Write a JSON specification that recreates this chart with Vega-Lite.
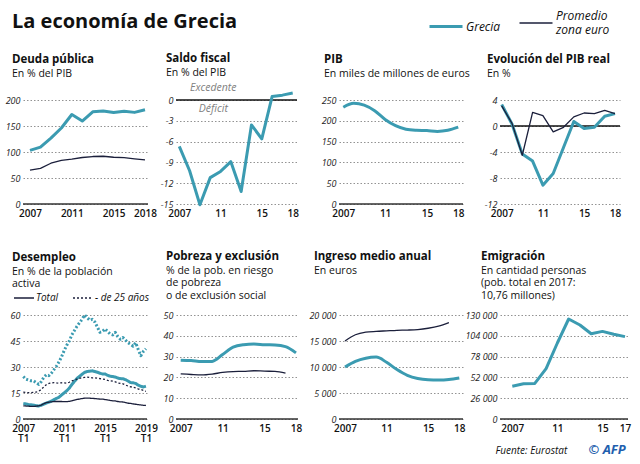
{
"$schema": "https://vega.github.io/schema/vega-lite/v6.json",
"background": "white",
"padding": {"left": 5, "top": 12, "right": 5, "bottom": 5},
"title": {"text": "La economía de Grecia", "fontSize": 20, "fontWeight": "bold", "anchor": "start", "frame": "group", "offset": -15, "color": "#111", "dx": -11},
"columns": 4,
"bounds": "flush",
"align": "each",
"spacing": {"row": 111, "column": 10},
"resolve": {"legend": {"strokeDash": "independent"}},
"datasets": {
"deuda": [
{"pais":"Grecia","anio":2007,"valor":103.1},{"pais":"Grecia","anio":2008,"valor":109.4},{"pais":"Grecia","anio":2009,"valor":126.7},{"pais":"Grecia","anio":2010,"valor":146.2},{"pais":"Grecia","anio":2011,"valor":172.1},{"pais":"Grecia","anio":2012,"valor":159.6},{"pais":"Grecia","anio":2013,"valor":177.4},{"pais":"Grecia","anio":2014,"valor":178.9},{"pais":"Grecia","anio":2015,"valor":175.9},{"pais":"Grecia","anio":2016,"valor":178.5},{"pais":"Grecia","anio":2017,"valor":176.2},{"pais":"Grecia","anio":2018,"valor":181.2},
{"pais":"Promedio zona euro","anio":2007,"valor":65.0},{"pais":"Promedio zona euro","anio":2008,"valor":68.6},{"pais":"Promedio zona euro","anio":2009,"valor":78.4},{"pais":"Promedio zona euro","anio":2010,"valor":83.8},{"pais":"Promedio zona euro","anio":2011,"valor":86.1},{"pais":"Promedio zona euro","anio":2012,"valor":89.4},{"pais":"Promedio zona euro","anio":2013,"valor":91.3},{"pais":"Promedio zona euro","anio":2014,"valor":91.8},{"pais":"Promedio zona euro","anio":2015,"valor":89.9},{"pais":"Promedio zona euro","anio":2016,"valor":89.0},{"pais":"Promedio zona euro","anio":2017,"valor":86.8},{"pais":"Promedio zona euro","anio":2018,"valor":84.8}
],
"saldo": [
{"pais":"Grecia","anio":2007,"valor":-6.7},{"pais":"Grecia","anio":2008,"valor":-10.2},{"pais":"Grecia","anio":2009,"valor":-15.1},{"pais":"Grecia","anio":2010,"valor":-11.2},{"pais":"Grecia","anio":2011,"valor":-10.3},{"pais":"Grecia","anio":2012,"valor":-8.9},{"pais":"Grecia","anio":2013,"valor":-13.2},{"pais":"Grecia","anio":2014,"valor":-3.6},{"pais":"Grecia","anio":2015,"valor":-5.6},{"pais":"Grecia","anio":2016,"valor":0.5},{"pais":"Grecia","anio":2017,"valor":0.7},{"pais":"Grecia","anio":2018,"valor":1.0}
],
"notas": [
{"anio":2010.3,"valor":1.7,"texto":"Excedente"},{"anio":2010.3,"valor":-1.35,"texto":"Déficit"}
],
"pib": [
{"pais":"Grecia","anio":2007,"valor":232.7},{"pais":"Grecia","anio":2008,"valor":242.0},{"pais":"Grecia","anio":2009,"valor":237.5},{"pais":"Grecia","anio":2010,"valor":224.1},{"pais":"Grecia","anio":2011,"valor":203.3},{"pais":"Grecia","anio":2012,"valor":188.4},{"pais":"Grecia","anio":2013,"valor":179.9},{"pais":"Grecia","anio":2014,"valor":177.2},{"pais":"Grecia","anio":2015,"valor":176.4},{"pais":"Grecia","anio":2016,"valor":174.5},{"pais":"Grecia","anio":2017,"valor":177.2},{"pais":"Grecia","anio":2018,"valor":184.7}
],
"real": [
{"pais":"Grecia","anio":2007,"valor":3.3},{"pais":"Grecia","anio":2008,"valor":0.3},{"pais":"Grecia","anio":2009,"valor":-4.3},{"pais":"Grecia","anio":2010,"valor":-5.4},{"pais":"Grecia","anio":2011,"valor":-9.1},{"pais":"Grecia","anio":2012,"valor":-7.3},{"pais":"Grecia","anio":2013,"valor":-3.3},{"pais":"Grecia","anio":2014,"valor":0.7},{"pais":"Grecia","anio":2015,"valor":-0.4},{"pais":"Grecia","anio":2016,"valor":-0.2},{"pais":"Grecia","anio":2017,"valor":1.5},{"pais":"Grecia","anio":2018,"valor":1.9},
{"pais":"Promedio zona euro","anio":2007,"valor":3.1},{"pais":"Promedio zona euro","anio":2008,"valor":0.4},{"pais":"Promedio zona euro","anio":2009,"valor":-4.5},{"pais":"Promedio zona euro","anio":2010,"valor":2.1},{"pais":"Promedio zona euro","anio":2011,"valor":1.6},{"pais":"Promedio zona euro","anio":2012,"valor":-0.9},{"pais":"Promedio zona euro","anio":2013,"valor":-0.2},{"pais":"Promedio zona euro","anio":2014,"valor":1.4},{"pais":"Promedio zona euro","anio":2015,"valor":2.0},{"pais":"Promedio zona euro","anio":2016,"valor":1.9},{"pais":"Promedio zona euro","anio":2017,"valor":2.4},{"pais":"Promedio zona euro","anio":2018,"valor":1.9}
],
"paro": [
{"pais":"Grecia","grupo":"Total","t":2007,"v":9.0},{"pais":"Grecia","grupo":"Total","t":2007.25,"v":8.7},{"pais":"Grecia","grupo":"Total","t":2007.5,"v":8.3},{"pais":"Grecia","grupo":"Total","t":2007.75,"v":8.2},
{"pais":"Grecia","grupo":"Total","t":2008,"v":8.0},{"pais":"Grecia","grupo":"Total","t":2008.25,"v":7.7},{"pais":"Grecia","grupo":"Total","t":2008.5,"v":7.5},{"pais":"Grecia","grupo":"Total","t":2008.75,"v":7.9},
{"pais":"Grecia","grupo":"Total","t":2009,"v":8.6},{"pais":"Grecia","grupo":"Total","t":2009.25,"v":9.2},{"pais":"Grecia","grupo":"Total","t":2009.5,"v":9.7},{"pais":"Grecia","grupo":"Total","t":2009.75,"v":10.3},
{"pais":"Grecia","grupo":"Total","t":2010,"v":11.2},{"pais":"Grecia","grupo":"Total","t":2010.25,"v":11.9},{"pais":"Grecia","grupo":"Total","t":2010.5,"v":12.6},{"pais":"Grecia","grupo":"Total","t":2010.75,"v":13.9},
{"pais":"Grecia","grupo":"Total","t":2011,"v":15.1},{"pais":"Grecia","grupo":"Total","t":2011.25,"v":16.3},{"pais":"Grecia","grupo":"Total","t":2011.5,"v":17.8},{"pais":"Grecia","grupo":"Total","t":2011.75,"v":19.9},
{"pais":"Grecia","grupo":"Total","t":2012,"v":21.7},{"pais":"Grecia","grupo":"Total","t":2012.25,"v":23.4},{"pais":"Grecia","grupo":"Total","t":2012.5,"v":24.6},{"pais":"Grecia","grupo":"Total","t":2012.75,"v":25.8},
{"pais":"Grecia","grupo":"Total","t":2013,"v":26.9},{"pais":"Grecia","grupo":"Total","t":2013.25,"v":27.4},{"pais":"Grecia","grupo":"Total","t":2013.5,"v":27.6},{"pais":"Grecia","grupo":"Total","t":2013.75,"v":27.8},
{"pais":"Grecia","grupo":"Total","t":2014,"v":27.4},{"pais":"Grecia","grupo":"Total","t":2014.25,"v":27.0},{"pais":"Grecia","grupo":"Total","t":2014.5,"v":26.4},{"pais":"Grecia","grupo":"Total","t":2014.75,"v":26.0},
{"pais":"Grecia","grupo":"Total","t":2015,"v":26.0},{"pais":"Grecia","grupo":"Total","t":2015.25,"v":25.2},{"pais":"Grecia","grupo":"Total","t":2015.5,"v":24.7},{"pais":"Grecia","grupo":"Total","t":2015.75,"v":24.5},
{"pais":"Grecia","grupo":"Total","t":2016,"v":24.2},{"pais":"Grecia","grupo":"Total","t":2016.25,"v":23.6},{"pais":"Grecia","grupo":"Total","t":2016.5,"v":23.3},{"pais":"Grecia","grupo":"Total","t":2016.75,"v":23.2},
{"pais":"Grecia","grupo":"Total","t":2017,"v":22.7},{"pais":"Grecia","grupo":"Total","t":2017.25,"v":21.9},{"pais":"Grecia","grupo":"Total","t":2017.5,"v":21.0},{"pais":"Grecia","grupo":"Total","t":2017.75,"v":20.9},
{"pais":"Grecia","grupo":"Total","t":2018,"v":20.5},{"pais":"Grecia","grupo":"Total","t":2018.25,"v":19.5},{"pais":"Grecia","grupo":"Total","t":2018.5,"v":18.9},{"pais":"Grecia","grupo":"Total","t":2018.75,"v":18.5},
{"pais":"Grecia","grupo":"Total","t":2019,"v":18.9},
{"pais":"Grecia","grupo":"- de 25 años","t":2007,"v":24.5},{"pais":"Grecia","grupo":"- de 25 años","t":2007.25,"v":23.0},{"pais":"Grecia","grupo":"- de 25 años","t":2007.5,"v":22.5},{"pais":"Grecia","grupo":"- de 25 años","t":2007.75,"v":22.0},
{"pais":"Grecia","grupo":"- de 25 años","t":2008,"v":22.0},{"pais":"Grecia","grupo":"- de 25 años","t":2008.25,"v":21.0},{"pais":"Grecia","grupo":"- de 25 años","t":2008.5,"v":20.0},{"pais":"Grecia","grupo":"- de 25 años","t":2008.75,"v":21.5},
{"pais":"Grecia","grupo":"- de 25 años","t":2009,"v":24.0},{"pais":"Grecia","grupo":"- de 25 años","t":2009.25,"v":25.5},{"pais":"Grecia","grupo":"- de 25 años","t":2009.5,"v":25.0},{"pais":"Grecia","grupo":"- de 25 años","t":2009.75,"v":26.5},
{"pais":"Grecia","grupo":"- de 25 años","t":2010,"v":28.5},{"pais":"Grecia","grupo":"- de 25 años","t":2010.25,"v":30.5},{"pais":"Grecia","grupo":"- de 25 años","t":2010.5,"v":33.0},{"pais":"Grecia","grupo":"- de 25 años","t":2010.75,"v":36.0},
{"pais":"Grecia","grupo":"- de 25 años","t":2011,"v":39.5},{"pais":"Grecia","grupo":"- de 25 años","t":2011.25,"v":42.5},{"pais":"Grecia","grupo":"- de 25 años","t":2011.5,"v":45.0},{"pais":"Grecia","grupo":"- de 25 años","t":2011.75,"v":48.5},
{"pais":"Grecia","grupo":"- de 25 años","t":2012,"v":51.0},{"pais":"Grecia","grupo":"- de 25 años","t":2012.25,"v":53.5},{"pais":"Grecia","grupo":"- de 25 años","t":2012.5,"v":55.5},{"pais":"Grecia","grupo":"- de 25 años","t":2012.75,"v":57.5},
{"pais":"Grecia","grupo":"- de 25 años","t":2013,"v":60.0},{"pais":"Grecia","grupo":"- de 25 años","t":2013.25,"v":58.5},{"pais":"Grecia","grupo":"- de 25 años","t":2013.5,"v":57.0},{"pais":"Grecia","grupo":"- de 25 años","t":2013.75,"v":57.5},
{"pais":"Grecia","grupo":"- de 25 años","t":2014,"v":56.0},{"pais":"Grecia","grupo":"- de 25 años","t":2014.25,"v":53.0},{"pais":"Grecia","grupo":"- de 25 años","t":2014.5,"v":50.0},{"pais":"Grecia","grupo":"- de 25 años","t":2014.75,"v":50.5},
{"pais":"Grecia","grupo":"- de 25 años","t":2015,"v":52.0},{"pais":"Grecia","grupo":"- de 25 años","t":2015.25,"v":50.5},{"pais":"Grecia","grupo":"- de 25 años","t":2015.5,"v":49.0},{"pais":"Grecia","grupo":"- de 25 años","t":2015.75,"v":48.5},
{"pais":"Grecia","grupo":"- de 25 años","t":2016,"v":50.0},{"pais":"Grecia","grupo":"- de 25 años","t":2016.25,"v":47.5},{"pais":"Grecia","grupo":"- de 25 años","t":2016.5,"v":46.0},{"pais":"Grecia","grupo":"- de 25 años","t":2016.75,"v":47.0},
{"pais":"Grecia","grupo":"- de 25 años","t":2017,"v":45.5},{"pais":"Grecia","grupo":"- de 25 años","t":2017.25,"v":44.0},{"pais":"Grecia","grupo":"- de 25 años","t":2017.5,"v":43.0},{"pais":"Grecia","grupo":"- de 25 años","t":2017.75,"v":42.0},
{"pais":"Grecia","grupo":"- de 25 años","t":2018,"v":44.0},{"pais":"Grecia","grupo":"- de 25 años","t":2018.25,"v":40.0},{"pais":"Grecia","grupo":"- de 25 años","t":2018.5,"v":36.5},{"pais":"Grecia","grupo":"- de 25 años","t":2018.75,"v":39.0},
{"pais":"Grecia","grupo":"- de 25 años","t":2019,"v":40.5},
{"pais":"Promedio zona euro","grupo":"Total","t":2007,"v":7.6},{"pais":"Promedio zona euro","grupo":"Total","t":2007.25,"v":7.5},{"pais":"Promedio zona euro","grupo":"Total","t":2007.5,"v":7.4},{"pais":"Promedio zona euro","grupo":"Total","t":2007.75,"v":7.3},
{"pais":"Promedio zona euro","grupo":"Total","t":2008,"v":7.3},{"pais":"Promedio zona euro","grupo":"Total","t":2008.25,"v":7.4},{"pais":"Promedio zona euro","grupo":"Total","t":2008.5,"v":7.6},{"pais":"Promedio zona euro","grupo":"Total","t":2008.75,"v":8.0},
{"pais":"Promedio zona euro","grupo":"Total","t":2009,"v":8.8},{"pais":"Promedio zona euro","grupo":"Total","t":2009.25,"v":9.4},{"pais":"Promedio zona euro","grupo":"Total","t":2009.5,"v":9.7},{"pais":"Promedio zona euro","grupo":"Total","t":2009.75,"v":9.9},
{"pais":"Promedio zona euro","grupo":"Total","t":2010,"v":10.1},{"pais":"Promedio zona euro","grupo":"Total","t":2010.25,"v":10.1},{"pais":"Promedio zona euro","grupo":"Total","t":2010.5,"v":10.1},{"pais":"Promedio zona euro","grupo":"Total","t":2010.75,"v":10.1},
{"pais":"Promedio zona euro","grupo":"Total","t":2011,"v":10.0},{"pais":"Promedio zona euro","grupo":"Total","t":2011.25,"v":10.0},{"pais":"Promedio zona euro","grupo":"Total","t":2011.5,"v":10.2},{"pais":"Promedio zona euro","grupo":"Total","t":2011.75,"v":10.5},
{"pais":"Promedio zona euro","grupo":"Total","t":2012,"v":10.9},{"pais":"Promedio zona euro","grupo":"Total","t":2012.25,"v":11.3},{"pais":"Promedio zona euro","grupo":"Total","t":2012.5,"v":11.5},{"pais":"Promedio zona euro","grupo":"Total","t":2012.75,"v":11.8},
{"pais":"Promedio zona euro","grupo":"Total","t":2013,"v":12.0},{"pais":"Promedio zona euro","grupo":"Total","t":2013.25,"v":12.0},{"pais":"Promedio zona euro","grupo":"Total","t":2013.5,"v":12.0},{"pais":"Promedio zona euro","grupo":"Total","t":2013.75,"v":11.9},
{"pais":"Promedio zona euro","grupo":"Total","t":2014,"v":11.8},{"pais":"Promedio zona euro","grupo":"Total","t":2014.25,"v":11.6},{"pais":"Promedio zona euro","grupo":"Total","t":2014.5,"v":11.5},{"pais":"Promedio zona euro","grupo":"Total","t":2014.75,"v":11.5},
{"pais":"Promedio zona euro","grupo":"Total","t":2015,"v":11.2},{"pais":"Promedio zona euro","grupo":"Total","t":2015.25,"v":11.0},{"pais":"Promedio zona euro","grupo":"Total","t":2015.5,"v":10.7},{"pais":"Promedio zona euro","grupo":"Total","t":2015.75,"v":10.5},
{"pais":"Promedio zona euro","grupo":"Total","t":2016,"v":10.4},{"pais":"Promedio zona euro","grupo":"Total","t":2016.25,"v":10.1},{"pais":"Promedio zona euro","grupo":"Total","t":2016.5,"v":9.9},{"pais":"Promedio zona euro","grupo":"Total","t":2016.75,"v":9.8},
{"pais":"Promedio zona euro","grupo":"Total","t":2017,"v":9.5},{"pais":"Promedio zona euro","grupo":"Total","t":2017.25,"v":9.1},{"pais":"Promedio zona euro","grupo":"Total","t":2017.5,"v":9.0},{"pais":"Promedio zona euro","grupo":"Total","t":2017.75,"v":8.7},
{"pais":"Promedio zona euro","grupo":"Total","t":2018,"v":8.5},{"pais":"Promedio zona euro","grupo":"Total","t":2018.25,"v":8.3},{"pais":"Promedio zona euro","grupo":"Total","t":2018.5,"v":8.1},{"pais":"Promedio zona euro","grupo":"Total","t":2018.75,"v":7.9},
{"pais":"Promedio zona euro","grupo":"Total","t":2019,"v":7.8},
{"pais":"Promedio zona euro","grupo":"- de 25 años","t":2007,"v":15.5},{"pais":"Promedio zona euro","grupo":"- de 25 años","t":2007.25,"v":15.3},{"pais":"Promedio zona euro","grupo":"- de 25 años","t":2007.5,"v":15.2},{"pais":"Promedio zona euro","grupo":"- de 25 años","t":2007.75,"v":15.2},
{"pais":"Promedio zona euro","grupo":"- de 25 años","t":2008,"v":15.4},{"pais":"Promedio zona euro","grupo":"- de 25 años","t":2008.25,"v":15.5},{"pais":"Promedio zona euro","grupo":"- de 25 años","t":2008.5,"v":16.0},{"pais":"Promedio zona euro","grupo":"- de 25 años","t":2008.75,"v":17.0},
{"pais":"Promedio zona euro","grupo":"- de 25 años","t":2009,"v":18.5},{"pais":"Promedio zona euro","grupo":"- de 25 años","t":2009.25,"v":19.8},{"pais":"Promedio zona euro","grupo":"- de 25 años","t":2009.5,"v":20.5},{"pais":"Promedio zona euro","grupo":"- de 25 años","t":2009.75,"v":20.8},
{"pais":"Promedio zona euro","grupo":"- de 25 años","t":2010,"v":21.0},{"pais":"Promedio zona euro","grupo":"- de 25 años","t":2010.25,"v":20.8},{"pais":"Promedio zona euro","grupo":"- de 25 años","t":2010.5,"v":20.7},{"pais":"Promedio zona euro","grupo":"- de 25 años","t":2010.75,"v":20.9},
{"pais":"Promedio zona euro","grupo":"- de 25 años","t":2011,"v":20.8},{"pais":"Promedio zona euro","grupo":"- de 25 años","t":2011.25,"v":20.7},{"pais":"Promedio zona euro","grupo":"- de 25 años","t":2011.5,"v":21.2},{"pais":"Promedio zona euro","grupo":"- de 25 años","t":2011.75,"v":22.0},
{"pais":"Promedio zona euro","grupo":"- de 25 años","t":2012,"v":22.5},{"pais":"Promedio zona euro","grupo":"- de 25 años","t":2012.25,"v":23.0},{"pais":"Promedio zona euro","grupo":"- de 25 años","t":2012.5,"v":23.5},{"pais":"Promedio zona euro","grupo":"- de 25 años","t":2012.75,"v":23.8},
{"pais":"Promedio zona euro","grupo":"- de 25 años","t":2013,"v":24.0},{"pais":"Promedio zona euro","grupo":"- de 25 años","t":2013.25,"v":24.2},{"pais":"Promedio zona euro","grupo":"- de 25 años","t":2013.5,"v":24.0},{"pais":"Promedio zona euro","grupo":"- de 25 años","t":2013.75,"v":23.7},
{"pais":"Promedio zona euro","grupo":"- de 25 años","t":2014,"v":23.8},{"pais":"Promedio zona euro","grupo":"- de 25 años","t":2014.25,"v":23.5},{"pais":"Promedio zona euro","grupo":"- de 25 años","t":2014.5,"v":23.3},{"pais":"Promedio zona euro","grupo":"- de 25 años","t":2014.75,"v":23.1},
{"pais":"Promedio zona euro","grupo":"- de 25 años","t":2015,"v":22.8},{"pais":"Promedio zona euro","grupo":"- de 25 años","t":2015.25,"v":22.3},{"pais":"Promedio zona euro","grupo":"- de 25 años","t":2015.5,"v":22.0},{"pais":"Promedio zona euro","grupo":"- de 25 años","t":2015.75,"v":21.8},
{"pais":"Promedio zona euro","grupo":"- de 25 años","t":2016,"v":21.4},{"pais":"Promedio zona euro","grupo":"- de 25 años","t":2016.25,"v":20.8},{"pais":"Promedio zona euro","grupo":"- de 25 años","t":2016.5,"v":20.6},{"pais":"Promedio zona euro","grupo":"- de 25 años","t":2016.75,"v":20.3},
{"pais":"Promedio zona euro","grupo":"- de 25 años","t":2017,"v":19.6},{"pais":"Promedio zona euro","grupo":"- de 25 años","t":2017.25,"v":19.0},{"pais":"Promedio zona euro","grupo":"- de 25 años","t":2017.5,"v":18.6},{"pais":"Promedio zona euro","grupo":"- de 25 años","t":2017.75,"v":18.3},
{"pais":"Promedio zona euro","grupo":"- de 25 años","t":2018,"v":17.9},{"pais":"Promedio zona euro","grupo":"- de 25 años","t":2018.25,"v":17.3},{"pais":"Promedio zona euro","grupo":"- de 25 años","t":2018.5,"v":17.0},{"pais":"Promedio zona euro","grupo":"- de 25 años","t":2018.75,"v":16.5},
{"pais":"Promedio zona euro","grupo":"- de 25 años","t":2019,"v":16.0}
],
"pobreza": [
{"pais":"Grecia","anio":2007,"valor":28.3},{"pais":"Grecia","anio":2008,"valor":28.1},{"pais":"Grecia","anio":2009,"valor":27.6},{"pais":"Grecia","anio":2010,"valor":27.7},{"pais":"Grecia","anio":2011,"valor":31.0},{"pais":"Grecia","anio":2012,"valor":34.6},{"pais":"Grecia","anio":2013,"valor":35.7},{"pais":"Grecia","anio":2014,"valor":36.0},{"pais":"Grecia","anio":2015,"valor":35.7},{"pais":"Grecia","anio":2016,"valor":35.6},{"pais":"Grecia","anio":2017,"valor":34.8},{"pais":"Grecia","anio":2018,"valor":31.8},
{"pais":"Promedio zona euro","anio":2007,"valor":21.7},{"pais":"Promedio zona euro","anio":2008,"valor":21.4},{"pais":"Promedio zona euro","anio":2009,"valor":21.2},{"pais":"Promedio zona euro","anio":2010,"valor":21.6},{"pais":"Promedio zona euro","anio":2011,"valor":22.4},{"pais":"Promedio zona euro","anio":2012,"valor":22.8},{"pais":"Promedio zona euro","anio":2013,"valor":22.9},{"pais":"Promedio zona euro","anio":2014,"valor":23.2},{"pais":"Promedio zona euro","anio":2015,"valor":23.0},{"pais":"Promedio zona euro","anio":2016,"valor":22.9},{"pais":"Promedio zona euro","anio":2017,"valor":22.0}
],
"ingreso": [
{"pais":"Grecia","anio":2007,"valor":10000},{"pais":"Grecia","anio":2008,"valor":11100},{"pais":"Grecia","anio":2009,"valor":11700},{"pais":"Grecia","anio":2010,"valor":11900},{"pais":"Grecia","anio":2011,"valor":10900},{"pais":"Grecia","anio":2012,"valor":9500},{"pais":"Grecia","anio":2013,"valor":8400},{"pais":"Grecia","anio":2014,"valor":7800},{"pais":"Grecia","anio":2015,"valor":7550},{"pais":"Grecia","anio":2016,"valor":7500},{"pais":"Grecia","anio":2017,"valor":7600},{"pais":"Grecia","anio":2018,"valor":7900},
{"pais":"Promedio zona euro","anio":2007,"valor":15000},{"pais":"Promedio zona euro","anio":2008,"valor":16200},{"pais":"Promedio zona euro","anio":2009,"valor":16700},{"pais":"Promedio zona euro","anio":2010,"valor":16850},{"pais":"Promedio zona euro","anio":2011,"valor":16950},{"pais":"Promedio zona euro","anio":2012,"valor":17050},{"pais":"Promedio zona euro","anio":2013,"valor":17100},{"pais":"Promedio zona euro","anio":2014,"valor":17200},{"pais":"Promedio zona euro","anio":2015,"valor":17450},{"pais":"Promedio zona euro","anio":2016,"valor":17850},{"pais":"Promedio zona euro","anio":2017,"valor":18550}
],
"emigracion": [
{"pais":"Grecia","anio":2007,"valor":41000},{"pais":"Grecia","anio":2008,"valor":44000},{"pais":"Grecia","anio":2009,"valor":44500},{"pais":"Grecia","anio":2010,"valor":63000},{"pais":"Grecia","anio":2011,"valor":95000},{"pais":"Grecia","anio":2012,"valor":125000},{"pais":"Grecia","anio":2013,"valor":117500},{"pais":"Grecia","anio":2014,"valor":106500},{"pais":"Grecia","anio":2015,"valor":109500},{"pais":"Grecia","anio":2016,"valor":106000},{"pais":"Grecia","anio":2017,"valor":103000}
],
"cero": [{"base":0}]
},
"concat": [
{
"width": 143, "height": 104,
"title": {"text": "Deuda pública", "subtitle": "En % del PIB", "dx": -11, "offset": 17},
"layer": [
{"data": {"name": "cero"}, "mark": {"type": "rule", "color": "#333", "strokeWidth": 1.6}, "encoding": {"x": {"datum": 2006.33, "type": "quantitative"}, "x2": {"datum": 2018.287}, "y": {"field": "base", "type": "quantitative"}}},
{"data": {"name": "deuda"}, "mark": {"type": "line", "strokeJoin": "round"},
"encoding": {
"x": {"field": "anio", "type": "quantitative", "scale": {"domain": [2006.33, 2018.287], "range": [0, 125], "nice": false, "zero": false}, "axis": {"values": [2007, 2011, 2015, 2018], "format": "d", "title": null}},
"y": {"field": "valor", "type": "quantitative", "scale": {"domain": [0, 200], "nice": false, "zero": false}, "axis": {"values": [0, 50, 100, 150, 200], "format": "d", "title": null}},
"color": {"field": "pais", "type": "nominal", "scale": {"domain": ["Grecia", "Promedio zona euro"], "range": ["#3b9bb1", "#1b1f3b"]},
"legend": {"orient": "none", "legendX": 417, "legendY": -83, "direction": "horizontal", "title": null, "symbolType": "stroke", "symbolSize": 1089, "symbolStrokeWidth": 3, "labelFontStyle": "italic", "labelFontSize": 12, "labelColor": "#111", "labelOffset": 14, "columnPadding": 15, "labelExpr": "datum.value == 'Grecia' ? 'Grecia' : ['Promedio', 'zona euro']", "encode": {"symbols": {"update": {"strokeWidth": {"signal": "datum.value == 'Grecia' ? 3 : 1.3"}}}, "labels": {"update": {"dy": {"signal": "datum.value == 'Grecia' ? 0 : -7"}}}}}},
"strokeWidth": {"condition": {"test": "datum.pais === 'Grecia'", "value": 3}, "value": 1.3}
}}
]
},
{
"width": 153, "height": 104,
"title": {"text": "Saldo fiscal", "subtitle": "En % del PIB", "dx": -10, "offset": 5},
"layer": [
{"data": {"name": "cero"}, "mark": {"type": "rule", "color": "#111", "strokeWidth": 1.5}, "encoding": {"x": {"datum": 2006.68, "type": "quantitative"}, "x2": {"datum": 2018.416}, "y": {"field": "base", "type": "quantitative"}}},
{"data": {"name": "notas"}, "mark": {"type": "text", "fontStyle": "italic", "fontSize": 10.5, "color": "#808080", "align": "center", "baseline": "middle"}, "encoding": {"x": {"field": "anio", "type": "quantitative"}, "y": {"field": "valor", "type": "quantitative"}, "text": {"field": "texto"}}},
{"data": {"name": "saldo"}, "mark": {"type": "line", "strokeJoin": "round"},
"encoding": {
"x": {"field": "anio", "type": "quantitative", "scale": {"domain": [2006.68, 2018.416], "range": [0, 121], "nice": false, "zero": false}, "axis": {"values": [2007, 2011, 2015, 2018], "format": "d", "title": null, "labelExpr": "datum.value == 2007 ? '2007' : substring(datum.label, 2, 4)"}},
"y": {"field": "valor", "type": "quantitative", "scale": {"domain": [-15, 0], "nice": false, "zero": false}, "axis": {"values": [0, -3, -6, -9, -12, -15], "format": "d", "title": null}},
"color": {"field": "pais", "type": "nominal", "scale": {"domain": ["Grecia", "Promedio zona euro"], "range": ["#3b9bb1", "#1b1f3b"]}},
"strokeWidth": {"condition": {"test": "datum.pais === 'Grecia'", "value": 3}, "value": 1.3}
}}
]
},
{
"width": 151, "height": 104,
"title": {"text": "PIB", "subtitle": "En miles de millones de euros", "dx": -15, "offset": 17},
"layer": [
{"data": {"name": "cero"}, "mark": {"type": "rule", "color": "#333", "strokeWidth": 1.6}, "encoding": {"x": {"datum": 2006.589, "type": "quantitative"}, "x2": {"datum": 2018.455}, "y": {"field": "base", "type": "quantitative"}}},
{"data": {"name": "pib"}, "mark": {"type": "line", "strokeJoin": "round", "interpolate": "monotone"},
"encoding": {
"x": {"field": "anio", "type": "quantitative", "scale": {"domain": [2006.589, 2018.455], "range": [0, 124], "nice": false, "zero": false}, "axis": {"values": [2007, 2011, 2015, 2018], "format": "d", "title": null, "labelExpr": "datum.value == 2007 ? '2007' : substring(datum.label, 2, 4)"}},
"y": {"field": "valor", "type": "quantitative", "scale": {"domain": [0, 250], "nice": false, "zero": false}, "axis": {"values": [0, 50, 100, 150, 200, 250], "format": "d", "title": null}},
"color": {"field": "pais", "type": "nominal", "scale": {"domain": ["Grecia", "Promedio zona euro"], "range": ["#3b9bb1", "#1b1f3b"]}},
"strokeWidth": {"condition": {"test": "datum.pais === 'Grecia'", "value": 3}, "value": 1.3}
}}
]
},
{
"width": 130, "height": 104,
"title": {"text": "Evolución del PIB real", "subtitle": "En %", "dx": -13, "offset": 17},
"layer": [
{"data": {"name": "cero"}, "mark": {"type": "rule", "color": "#111", "strokeWidth": 1.5}, "encoding": {"x": {"datum": 2006.835, "type": "quantitative"}, "x2": {"datum": 2018.485}, "y": {"field": "base", "type": "quantitative"}}},
{"data": {"name": "real"}, "mark": {"type": "line", "strokeJoin": "round"},
"encoding": {
"x": {"field": "anio", "type": "quantitative", "scale": {"domain": [2006.835, 2018.485], "range": [0, 120], "nice": false, "zero": false}, "axis": {"values": [2007, 2011, 2015, 2018], "format": "d", "title": null, "labelExpr": "datum.value == 2007 ? '2007' : substring(datum.label, 2, 4)"}},
"y": {"field": "valor", "type": "quantitative", "scale": {"domain": [-12, 4], "nice": false, "zero": false}, "axis": {"values": [4, 0, -4, -8, -12], "format": "d", "title": null}},
"color": {"field": "pais", "type": "nominal", "scale": {"domain": ["Grecia", "Promedio zona euro"], "range": ["#3b9bb1", "#1b1f3b"]}},
"strokeWidth": {"condition": {"test": "datum.pais === 'Grecia'", "value": 3}, "value": 1.3}
}}
]
},
{
"width": 143, "height": 104,
"title": {"text": "Desempleo", "subtitle": ["En % de la población", "activa", ""], "dx": -11, "offset": -15},
"layer": [
{"data": {"name": "cero"}, "mark": {"type": "rule", "color": "#333", "strokeWidth": 1.6}, "encoding": {"x": {"datum": 2006.97, "type": "quantitative"}, "x2": {"datum": 2019.103}, "y": {"field": "base", "type": "quantitative"}}},
{"data": {"name": "paro"}, "mark": {"type": "line", "strokeJoin": "round"},
"encoding": {
"x": {"field": "t", "type": "quantitative", "scale": {"domain": [2006.97, 2019.103], "range": [0, 124], "nice": false, "zero": false}, "axis": {"values": [2007, 2011, 2015, 2019], "format": "d", "title": null, "labelExpr": "[datum.label, 'T1']", "labelLineHeight": 10}},
"y": {"field": "v", "type": "quantitative", "scale": {"domain": [0, 60], "nice": false, "zero": false}, "axis": {"values": [0, 15, 30, 45, 60], "format": "d", "title": null}},
"color": {"field": "pais", "type": "nominal", "scale": {"domain": ["Grecia", "Promedio zona euro"], "range": ["#3b9bb1", "#1b1f3b"]}},
"strokeDash": {"field": "grupo", "type": "nominal", "scale": {"domain": ["Total", "- de 25 años"], "range": [[1, 0], [2, 2]]},
"legend": {"orient": "none", "legendX": -10, "legendY": -28, "direction": "horizontal", "title": null, "symbolType": "stroke", "symbolSize": 400, "symbolStrokeWidth": 1.3, "symbolStrokeColor": "#1b1f3b", "labelFontStyle": "italic", "labelFontSize": 10, "labelColor": "#111", "labelOffset": 1, "columnPadding": 11}},
"strokeWidth": {"condition": {"test": "datum.pais === 'Grecia'", "value": 3}, "value": 1.3}
}}
]
},
{
"width": 153, "height": 104,
"title": {"text": "Pobreza y exclusión", "subtitle": ["% de la pob. en riesgo", "de pobreza", "o de exclusión social"], "dx": -10, "offset": 10},
"layer": [
{"data": {"name": "cero"}, "mark": {"type": "rule", "color": "#333", "strokeWidth": 1.6}, "encoding": {"x": {"datum": 2006.552, "type": "quantitative"}, "x2": {"datum": 2018.193}, "y": {"field": "base", "type": "quantitative"}}},
{"data": {"name": "pobreza"}, "mark": {"type": "line", "strokeJoin": "round", "interpolate": "monotone"},
"encoding": {
"x": {"field": "anio", "type": "quantitative", "scale": {"domain": [2006.552, 2018.193], "range": [0, 122], "nice": false, "zero": false}, "axis": {"values": [2007, 2011, 2015, 2018], "format": "d", "title": null, "labelExpr": "datum.value == 2007 ? '2007' : substring(datum.label, 2, 4)"}},
"y": {"field": "valor", "type": "quantitative", "scale": {"domain": [0, 50], "nice": false, "zero": false}, "axis": {"values": [0, 10, 20, 30, 40, 50], "format": "d", "title": null}},
"color": {"field": "pais", "type": "nominal", "scale": {"domain": ["Grecia", "Promedio zona euro"], "range": ["#3b9bb1", "#1b1f3b"]}},
"strokeWidth": {"condition": {"test": "datum.pais === 'Grecia'", "value": 3}, "value": 1.3}
}}
]
},
{
"width": 151, "height": 104,
"title": {"text": "Ingreso medio anual", "subtitle": ["En euros", "", ""], "dx": -25, "offset": 10},
"layer": [
{"data": {"name": "cero"}, "mark": {"type": "rule", "color": "#333", "strokeWidth": 1.6}, "encoding": {"x": {"datum": 2006.4225, "type": "quantitative"}, "x2": {"datum": 2018.357}, "y": {"field": "base", "type": "quantitative"}}},
{"data": {"name": "ingreso"}, "mark": {"type": "line", "strokeJoin": "round", "interpolate": "monotone"},
"encoding": {
"x": {"field": "anio", "type": "quantitative", "scale": {"domain": [2006.4225, 2018.357], "range": [0, 124], "nice": false, "zero": false}, "axis": {"values": [2007, 2011, 2015, 2018], "format": "d", "title": null, "labelExpr": "datum.value == 2007 ? '2007' : substring(datum.label, 2, 4)"}},
"y": {"field": "valor", "type": "quantitative", "scale": {"domain": [0, 20000], "nice": false, "zero": false}, "axis": {"values": [0, 5000, 10000, 15000, 20000], "format": ",d", "title": null}},
"color": {"field": "pais", "type": "nominal", "scale": {"domain": ["Grecia", "Promedio zona euro"], "range": ["#3b9bb1", "#1b1f3b"]}},
"strokeWidth": {"condition": {"test": "datum.pais === 'Grecia'", "value": 3}, "value": 1.3}
}}
]
},
{
"width": 130, "height": 104,
"title": {"text": "Emigración", "subtitle": ["En cantidad personas", "(pob. total en 2017:", "10,76 millones)"], "dx": -19, "offset": 10},
"layer": [
{"data": {"name": "cero"}, "mark": {"type": "rule", "color": "#333", "strokeWidth": 1.6}, "encoding": {"x": {"datum": 2005.909, "type": "quantitative"}, "x2": {"datum": 2017.267}, "y": {"field": "base", "type": "quantitative"}}},
{"data": {"name": "emigracion"}, "mark": {"type": "line", "strokeJoin": "round"},
"encoding": {
"x": {"field": "anio", "type": "quantitative", "scale": {"domain": [2005.909, 2017.267], "range": [0, 128], "nice": false, "zero": false}, "axis": {"values": [2007, 2011, 2015, 2017], "format": "d", "labelExpr": "datum.value == 2007 ? '2007' : substring(datum.label, 2, 4)", "title": "Fuente: Eurostat", "titleFontStyle": "italic", "titleFontWeight": "normal", "titleFontSize": 10, "titleColor": "#111", "titleAnchor": null, "titleAlign": "left", "titleBaseline": "alphabetic", "titleX": -5, "titleY": 34}},
"y": {"field": "valor", "type": "quantitative", "scale": {"domain": [0, 130000], "nice": false, "zero": false}, "axis": {"values": [0, 26000, 52000, 78000, 104000, 130000], "format": ",d", "title": "© AFP", "titleAngle": 0, "titleFontStyle": "italic", "titleFontWeight": "bold", "titleFontSize": 13, "titleColor": "#1f5fae", "titleAlign": "left", "titleBaseline": "alphabetic", "titleX": 88, "titleY": 138}},
"color": {"field": "pais", "type": "nominal", "scale": {"domain": ["Grecia", "Promedio zona euro"], "range": ["#3b9bb1", "#1b1f3b"]}},
"strokeWidth": {"condition": {"test": "datum.pais === 'Grecia'", "value": 3}, "value": 1.3}
}}
]
}
],
"config": {
"font": "Open Sans",
"locale": {"number": {"decimal": ",", "thousands": " ", "grouping": [3], "currency": ["", " €"], "minus": "-"}},
"view": {"stroke": null},
"axis": {"domain": false, "ticks": false, "labelFont": "Open Sans", "titleFont": "Open Sans", "tickCount": 20},
"axisX": {"grid": false, "labelFontSize": 10, "labelFontWeight": 600, "labelColor": "#111", "labelPadding": 4, "labelFlush": false, "labelOverlap": false, "tickCount": 20},
"axisY": {"grid": true, "gridDash": [1.5, 2], "gridColor": "#777", "gridWidth": 0.8, "labelFontSize": 9, "labelFontStyle": "italic", "labelColor": "#222", "labelPadding": 3, "labelOverlap": false, "tickCount": 20},
"title": {"anchor": "start", "frame": "group", "font": "Open Sans", "fontSize": 11.5, "fontWeight": "bold", "color": "#111", "subtitleFont": "Open Sans", "subtitleFontSize": 10.5, "subtitleColor": "#111", "subtitlePadding": 3, "subtitleLineHeight": 12.5},
"legend": {"labelFont": "Open Sans"}
}
}
